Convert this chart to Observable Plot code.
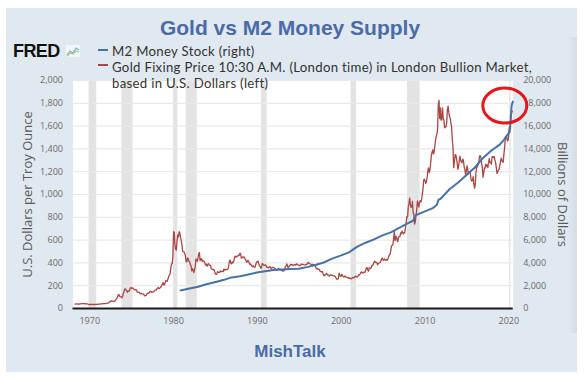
<!DOCTYPE html>
<html>
<head>
<meta charset="utf-8">
<script src="https://cdn.jsdelivr.net/npm/d3@7"></script>
<script src="https://cdn.jsdelivr.net/npm/@observablehq/plot@0.6"></script>
<style>
  body { margin: 0; background: #ffffff; }
  #wrap { position: relative; width: 588px; height: 382px; overflow: hidden; font-family: "Open Sans", sans-serif; }
  #panel { position: absolute; left: 6px; top: 8px; width: 571px; height: 364px; background: #e0e8f0; }
  #strip { position: absolute; left: 568px; top: 37px; width: 9px; height: 296px; background: linear-gradient(to right, #e0e8f0, #d3dbe4); }
  #chart { position: absolute; left: 0; top: 0; }
  #title { position: absolute; left: 0; width: 580px; top: 17px; text-align: center; font: bold 21px/21px "Liberation Sans", Arial, sans-serif; color: #4a6ba6; }
  #caption { position: absolute; left: 0; width: 580px; top: 343px; text-align: center; font: bold 17px/17px "Liberation Sans", Arial, sans-serif; color: #4a6ba6; }
  #fred { position: absolute; left: 13px; top: 42px; font: bold 18px/18px "Liberation Sans", Arial, sans-serif; color: #111; letter-spacing: -0.6px; }
  #fredicon { position: absolute; left: 66px; top: 45px; }
  #legend { position: absolute; left: 112px; top: 44px; font: 13.2px/15.9px Lato, "Open Sans", sans-serif; letter-spacing: 0.3px; color: #333; white-space: nowrap; }
  .dash { position: absolute; left: 98px; width: 10px; height: 2px; }
</style>
</head>
<body>
<div id="wrap">
  <div id="panel"></div>
  <div id="strip"></div>
  <div id="chart"></div>
  <div id="title">Gold vs M2 Money Supply</div>
  <div id="fred">FRED</div>
  <svg id="fredicon" width="14" height="12" viewBox="0 0 14 12">
    <rect x="0" y="0" width="14" height="12" fill="#f4f6f8"/>
    <polyline points="1,10 4,6 7,8 10,3 13,5" fill="none" stroke="#7fb0d8" stroke-width="1.2"/>
    <polyline points="1,11 4,8 7,9 10,6 13,7" fill="none" stroke="#9cc97f" stroke-width="1.2"/>
  </svg>
  <div class="dash" style="top:49px;background:#4572a7"></div>
  <div class="dash" style="top:64px;background:#aa4643"></div>
  <div id="legend">M2 Money Stock (right)<br>Gold Fixing Price 10:30 A.M. (London time) in London Bullion Market,<br>based in U.S. Dollars (left)</div>
  <div id="caption">MishTalk</div>
</div>
<script>
// Gold fixing price, USD per troy ounce, monthly from 1968-04
const goldStart = "1968-04-01";
const goldValues = [
  38, 41, 41, 39, 39, 40, 39, 40, 41,
  42, 42, 43, 43, 43, 41, 42, 41, 40, 40, 36, 35,
  35, 35, 35, 36, 36, 35, 35, 35, 36, 37, 37, 37,
  38, 39, 39, 39, 40, 40, 41, 42, 42, 42, 43, 43,
  46, 48, 48, 49, 54, 62, 65, 67, 65, 65, 63, 63,
  65, 74, 84, 91, 102, 123, 120, 106, 103, 100, 94, 106,
  129, 150, 168, 172, 163, 154, 143, 154, 151, 158, 181, 183,
  176, 180, 178, 170, 167, 164, 166, 160, 144, 143, 142, 139,
  131, 131, 132, 128, 126, 126, 118, 110, 114, 117, 130, 134,
  132, 136, 148, 149, 147, 141, 144, 145, 149, 159, 162, 161,
  173, 179, 184, 175, 177, 183, 188, 206, 212, 228, 206, 207,
  227, 246, 243, 239, 258, 278, 295, 302, 355, 392, 392, 455,
  675, 665, 554, 517, 513, 600, 645, 627, 675, 661, 623, 594,
  557, 500, 498, 496, 480, 461, 409, 410, 443, 437, 413, 410,
  384, 374, 330, 350, 334, 315, 340, 365, 436, 422, 414, 444,
  481, 491, 419, 432, 438, 413, 422, 416, 412, 394, 382, 388,
  370, 386, 394, 381, 377, 377, 347, 348, 341, 340, 341, 320,
  303, 299, 304, 324, 316, 317, 317, 330, 323, 326, 325, 322,
  345, 338, 345, 340, 342, 343, 348, 376, 418, 423, 398, 391,
  408, 401, 409, 438, 460, 450, 450, 461, 460, 465, 467, 486,
  477, 442, 444, 452, 451, 452, 437, 432, 413, 406, 420, 419,
  404, 388, 390, 384, 371, 368, 375, 365, 362, 367, 394, 409,
  410, 416, 393, 374, 369, 352, 362, 395, 389, 381, 381, 378,
  383, 364, 363, 358, 357, 366, 367, 356, 348, 359, 360, 361,
  354, 354, 344, 338, 337, 341, 353, 343, 345, 344, 335, 334,
  329, 329, 330, 342, 367, 372, 392, 378, 355, 364, 373, 383,
  387, 382, 384, 377, 381, 386, 385, 380, 391, 389, 384, 379,
  379, 376, 382, 391, 385, 387, 386, 383, 383, 383, 386, 387,
  400, 405, 396, 393, 392, 385, 383, 387, 383, 381, 378, 369,
  355, 347, 352, 344, 344, 341, 324, 324, 322, 325, 306, 289,
  289, 297, 296, 308, 299, 292, 293, 284, 289, 296, 294, 291,
  287, 287, 286, 282, 277, 262, 256, 257, 265, 311, 293, 283,
  284, 300, 286, 280, 275, 285, 282, 274, 273, 270, 266, 272,
  265, 262, 263, 261, 272, 270, 268, 273, 283, 283, 276, 276,
  282, 296, 294, 302, 314, 322, 314, 310, 319, 317, 319, 333,
  356, 359, 340, 328, 355, 356, 351, 360, 379, 379, 389, 407,
  414, 405, 406, 404, 384, 392, 398, 400, 406, 420, 439, 442,
  424, 423, 434, 429, 422, 430, 424, 437, 456, 470, 476, 510,
  549, 555, 557, 610, 676, 596, 634, 627, 599, 586, 628, 629,
  631, 664, 655, 679, 667, 655, 665, 665, 713, 754, 806, 803,
  889, 922, 968, 909, 888, 890, 939, 839, 830, 740, 760, 816,
  858, 943, 925, 890, 928, 946, 934, 949, 996, 1043, 1127, 1135,
  1118, 1095, 1113, 1148, 1205, 1233, 1193, 1215, 1271, 1343, 1370, 1391,
  1356, 1372, 1424, 1474, 1510, 1529, 1572, 1790, 1825, 1665, 1760, 1652,
  1656, 1760, 1674, 1650, 1585, 1596, 1594, 1630, 1744, 1775, 1722, 1684,
  1671, 1627, 1593, 1487, 1414, 1235, 1286, 1347, 1349, 1316, 1275, 1220,
  1244, 1300, 1336, 1299, 1287, 1279, 1311, 1296, 1239, 1222, 1176, 1200,
  1251, 1227, 1178, 1198, 1199, 1181, 1128, 1117, 1125, 1157, 1086, 1055,
  1097, 1199, 1245, 1242, 1260, 1276, 1337, 1340, 1326, 1267, 1238, 1151,
  1192, 1234, 1231, 1266, 1246, 1260, 1237, 1283, 1314, 1280, 1283, 1265,
  1331, 1331, 1325, 1334, 1303, 1282, 1238, 1185, 1198, 1215, 1221, 1250,
  1291, 1320, 1300, 1286, 1283, 1359, 1413, 1500, 1510, 1495, 1471, 1480,
  1560, 1597, 1592, 1680, 1715, 1732
];

// M2 money stock, billions of dollars
const m2Dates = [
  "1980-11-03", "1980-12-01", "1981-12-01", "1982-12-01", "1983-12-01", "1984-12-01",
  "1985-12-01", "1986-12-01", "1987-12-01", "1988-12-01", "1989-12-01", "1990-12-01",
  "1991-12-01", "1992-12-01", "1993-12-01", "1994-12-01", "1995-12-01", "1996-12-01",
  "1997-12-01", "1998-12-01", "1999-12-01", "2000-12-01", "2001-12-01", "2002-12-01",
  "2003-12-01", "2004-12-01", "2005-12-01", "2006-12-01", "2007-12-01", "2008-08-01",
  "2008-10-01", "2008-12-01", "2009-12-01", "2010-12-01", "2011-06-01", "2011-08-01",
  "2011-12-01", "2012-12-01", "2013-12-01", "2014-12-01", "2015-12-01", "2016-12-01",
  "2017-12-01", "2018-12-01", "2019-06-01", "2019-12-01", "2020-02-01", "2020-03-01",
  "2020-04-01", "2020-05-01", "2020-06-22"
];
const m2Values = [
  1590, 1600, 1756, 1906, 2124, 2306,
  2492, 2728, 2826, 2988, 3151, 3272,
  3372, 3423, 3473, 3484, 3630, 3819,
  4033, 4375, 4638, 4925, 5433, 5772,
  6067, 6419, 6681, 7071, 7471, 7700,
  8000, 8192, 8496, 8800, 9100, 9500,
  9660, 10459, 11035, 11683, 12346, 13211,
  13855, 14377, 14800, 15320, 15450, 16000,
  17000, 17800, 18150
];

// NBER recessions (shaded)
const recessionStarts = ["1969-12-01", "1973-11-01", "1980-01-01", "1981-07-01", "1990-07-01", "2001-03-01", "2007-12-01", "2020-02-01"];
const recessionEnds   = ["1970-11-01", "1975-03-01", "1980-07-01", "1982-11-01", "1991-03-01", "2001-11-01", "2009-06-01", "2020-04-01"];

const xTickYears = [1970, 1980, 1990, 2000, 2010, 2020];
const leftTicks = [0, 200, 400, 600, 800, 1000, 1200, 1400, 1600, 1800, 2000];
const rightTicks = [0, 2000, 4000, 6000, 8000, 10000, 12000, 14000, 16000, 18000, 20000];

const gold = goldValues.map((v, i) => ({date: d3.utcMonth.offset(new Date(goldStart), i), value: v}));
const m2 = m2Dates.map((d, i) => ({date: new Date(d), value: m2Values[i]}));
const recessions = recessionStarts.map((s, i) => ({start: new Date(s), end: new Date(recessionEnds[i])}));
const xTicks = xTickYears.map(y => new Date(Date.UTC(y, 0, 1)));
const ratio = 10; // right axis / left axis
const fmt = d3.format(",");

const chart = Plot.plot({
  width: 588,
  height: 382,
  marginLeft: 72.5,
  marginRight: 75.3,
  marginTop: 80,
  marginBottom: 74,
  style: {background: "transparent", fontFamily: "Open Sans", fontSize: "9px", overflow: "visible"},
  x: {type: "utc", domain: [new Date("1968-01-01"), new Date("2020-07-08")]},
  y: {domain: [0, 2000]},
  marks: [
    Plot.frame({fill: "white", stroke: "none"}),
    Plot.rect(recessions, {x1: "start", x2: "end", fill: "#e3e3e3"}),
    Plot.gridY(leftTicks, {stroke: "#e9e9e9", strokeOpacity: 1, strokeWidth: 1.2}),
    Plot.line(gold, {x: "date", y: "value", stroke: "#aa4643", strokeWidth: 1.3}),
    Plot.line(m2, {x: "date", y: d => d.value / ratio, stroke: "#4572a7", strokeWidth: 2}),
    Plot.ruleY([0], {stroke: "#1a1a1a", strokeWidth: 2}),
    Plot.axisY(leftTicks, {anchor: "left", tickSize: 0, tickPadding: 10, tickFormat: fmt, label: null, color: "#6b6b6b", fontSize: 9}),
    Plot.axisY(rightTicks.map(d => d / ratio), {anchor: "right", tickSize: 0, tickPadding: 10, tickFormat: d => fmt(d * ratio), label: null, color: "#6b6b6b", fontSize: 9}),
    Plot.axisX(xTicks, {anchor: "bottom", tickSize: 0, tickPadding: 9, tickFormat: d3.utcFormat("%Y"), label: null, color: "#6b6b6b", fontSize: 9}),
    Plot.text(["U.S. Dollars per Troy Ounce"], {text: d => d, frameAnchor: "left", textAnchor: "middle", rotate: -90, dx: -45, fontSize: 13, fill: "#5a5a5a"}),
    Plot.text(["Billions of Dollars"], {text: d => d, frameAnchor: "right", textAnchor: "middle", rotate: 90, dx: 49, fontSize: 13, fill: "#5a5a5a"}),
    Plot.dot(m2.slice(-1), {x: "date", y: d => d.value / ratio, r: 18, stroke: "#e8141c", strokeWidth: 3, fill: "none", dx: -8, dy: 4})
  ]
});

// turn the highlight circle into an ellipse like the hand-drawn annotation
d3.select(chart).selectAll('g[aria-label="dot"] circle').each(function() {
  const e = document.createElementNS("http://www.w3.org/2000/svg", "ellipse");
  e.setAttribute("cx", this.getAttribute("cx"));
  e.setAttribute("cy", this.getAttribute("cy"));
  e.setAttribute("rx", 22);
  e.setAttribute("ry", 17.5);
  this.parentNode.replaceChild(e, this);
});

document.getElementById("chart").appendChild(chart);
</script>
</body>
</html>
